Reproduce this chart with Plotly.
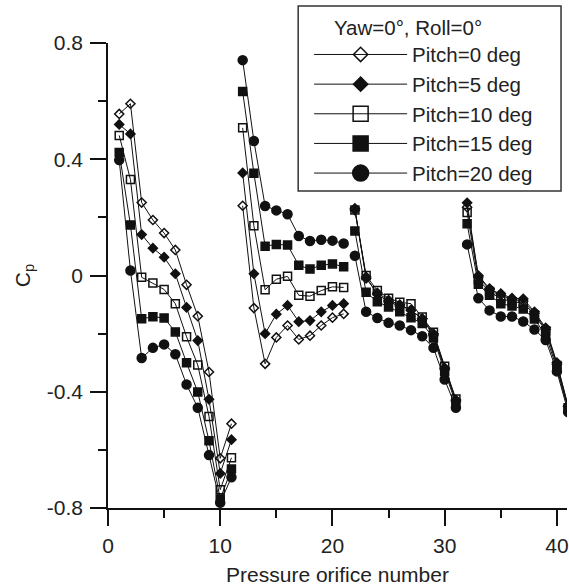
import plotly.graph_objects as go

# ---- data ----
orifice = list(range(1, 42))
segments = [(1, 11), (12, 21), (22, 31), (32, 41)]

pitch_labels = ["Pitch=0 deg", "Pitch=5 deg", "Pitch=10 deg", "Pitch=15 deg", "Pitch=20 deg"]

cp_pitch0 = [0.556, 0.591, 0.251, 0.191, 0.146, 0.088, -0.032, -0.140, -0.332, -0.629, -0.510,
             0.240, -0.112, -0.304, -0.213, -0.172, -0.220, -0.207, -0.172, -0.145, -0.132,
             0.231, -0.010, -0.060, -0.085, -0.100, -0.120, -0.148, -0.200, -0.318, -0.428,
             0.235, 0.000, -0.045, -0.068, -0.082, -0.088, -0.130, -0.185, -0.305, -0.450]
cp_pitch5 = [0.520, 0.487, 0.141, 0.094, 0.063, 0.006, -0.110, -0.224, -0.426, -0.681, -0.565,
             0.353, 0.006, -0.200, -0.133, -0.103, -0.159, -0.155, -0.125, -0.103, -0.097,
             0.225, -0.005, -0.065, -0.090, -0.105, -0.118, -0.150, -0.205, -0.322, -0.432,
             0.250, -0.005, -0.048, -0.062, -0.078, -0.080, -0.125, -0.180, -0.300, -0.450]
cp_pitch10 = [0.482, 0.330, -0.006, -0.026, -0.048, -0.097, -0.211, -0.308, -0.485, -0.737, -0.627,
              0.508, 0.171, -0.049, -0.013, -0.003, -0.068, -0.071, -0.052, -0.039, -0.041,
              0.225, 0.000, -0.052, -0.078, -0.092, -0.097, -0.143, -0.195, -0.312, -0.425,
              0.217, -0.015, -0.055, -0.080, -0.090, -0.095, -0.135, -0.190, -0.310, -0.455]
cp_pitch15 = [0.423, 0.174, -0.149, -0.142, -0.146, -0.194, -0.300, -0.401, -0.569, -0.769, -0.666,
              0.633, 0.352, 0.101, 0.107, 0.105, 0.035, 0.022, 0.035, 0.040, 0.030,
              0.153, -0.058, -0.090, -0.108, -0.125, -0.145, -0.165, -0.215, -0.330, -0.440,
              0.178, -0.030, -0.068, -0.097, -0.105, -0.115, -0.150, -0.205, -0.320, -0.460]
cp_pitch20 = [0.397, 0.017, -0.284, -0.249, -0.237, -0.271, -0.375, -0.455, -0.618, -0.782, -0.694,
              0.741, 0.463, 0.239, 0.224, 0.211, 0.136, 0.119, 0.123, 0.120, 0.110,
              0.068, -0.125, -0.146, -0.163, -0.172, -0.188, -0.209, -0.249, -0.358, -0.455,
              0.107, -0.078, -0.120, -0.141, -0.141, -0.158, -0.186, -0.222, -0.330, -0.470]

x_tick_vals = [0, 10, 20, 30, 40]
x_tick_text = ["0", "10", "20", "30", "40"]
y_tick_vals = [-0.8, -0.4, 0, 0.4, 0.8]
y_tick_text = ["-0.8", "-0.4", "0", "0.4", "0.8"]

legend_title = "Yaw=0°, Roll=0°"

# ---- styles ----
series = [cp_pitch0, cp_pitch5, cp_pitch10, cp_pitch15, cp_pitch20]
symbols = ["diamond-open", "diamond", "square-open", "square", "circle"]
plot_sizes = [7, 7, 8, 8, 9]
legend_sizes = [11, 11, 15, 15, 16]
INK = "#111111"
TXT = "#222222"
FONT = "Liberation Sans, Arial, sans-serif"

# plot-area geometry (pixels)
W, H = 569, 588
ML, MR, MT, MB = 108, 0, 43, 80
PW, PH = W - ML - MR, H - MT - MB


def px_to_paper_x(px):
    return (px - ML) / PW


def px_to_paper_y(py):
    return (H - MB - py) / PH


def with_gaps(values):
    xs, ys = [], []
    for a, b in segments:
        for n in range(a, b + 1):
            xs.append(orifice[n - 1])
            ys.append(values[n - 1])
        xs.append(None)
        ys.append(None)
    return xs, ys


fig = go.Figure()
for vals, sym, sz in zip(series, symbols, plot_sizes):
    xs, ys = with_gaps(vals)
    fig.add_trace(go.Scatter(
        x=xs, y=ys, mode="lines+markers", showlegend=False, connectgaps=False,
        line=dict(color=INK, width=1),
        marker=dict(symbol=sym, size=sz, color=INK, line=dict(color=INK, width=1.5)),
        cliponaxis=True,
    ))

for name, sym, sz in zip(pitch_labels, symbols, legend_sizes):
    fig.add_trace(go.Scatter(
        x=[None], y=[None], mode="lines+markers", name=name,
        line=dict(color=INK, width=1),
        marker=dict(symbol=sym, size=sz, color=INK, line=dict(color=INK, width=1.5)),
    ))

axis_common = dict(
    showline=True, linecolor=INK, linewidth=1.5, mirror=False,
    ticks="outside", ticklen=16, tickwidth=1.5, tickcolor=INK,
    showgrid=False, zeroline=False,
    tickfont=dict(family=FONT, size=21, color=TXT),
)

# legend frame (white box with border) behind the legend entries
fig.add_shape(
    type="rect", xref="paper", yref="paper", layer="above",
    x0=px_to_paper_x(299), x1=px_to_paper_x(563),
    y0=px_to_paper_y(191), y1=px_to_paper_y(6),
    line=dict(color="#333", width=1.5), fillcolor="white",
)

fig.update_layout(
    width=W, height=H,
    margin=dict(l=ML, r=MR, t=MT, b=MB),
    paper_bgcolor="white", plot_bgcolor="white",
    font=dict(family=FONT, size=21, color=TXT),
    xaxis=dict(
        range=[0, 40.9], tickmode="array", tickvals=x_tick_vals, ticktext=x_tick_text,
        minor=dict(tickmode="linear", tick0=0, dtick=5, ticklen=8, tickwidth=1.5,
                   tickcolor=INK, ticks="outside"),
        title=dict(text="Pressure orifice number", standoff=11,
                   font=dict(family=FONT, size=21, color=TXT)),
        ticklabelstandoff=2, ticklabeloverflow="allow",
        **axis_common,
    ),
    yaxis=dict(
        range=[-0.8, 0.8], tickmode="array", tickvals=y_tick_vals, ticktext=y_tick_text,
        minor=dict(tickmode="linear", tick0=0, dtick=0.2, ticklen=8, tickwidth=1.5,
                   tickcolor=INK, ticks="outside"),
        title=dict(text="C<sub>p</sub>", standoff=11,
                   font=dict(family=FONT, size=21, color=TXT)),
        ticklabelstandoff=3,
        **axis_common,
    ),
    legend=dict(
        x=px_to_paper_x(310), y=px_to_paper_y(8), xanchor="left", yanchor="top",
        bgcolor="rgba(0,0,0,0)", borderwidth=0,
        font=dict(family=FONT, size=20.5, color=TXT),
        itemwidth=93, tracegroupgap=0,
        title=dict(text="\u00a0" * 4 + legend_title,
                   font=dict(family=FONT, size=20.5, color=TXT)),
    ),
)

fig.write_html("out.html")
